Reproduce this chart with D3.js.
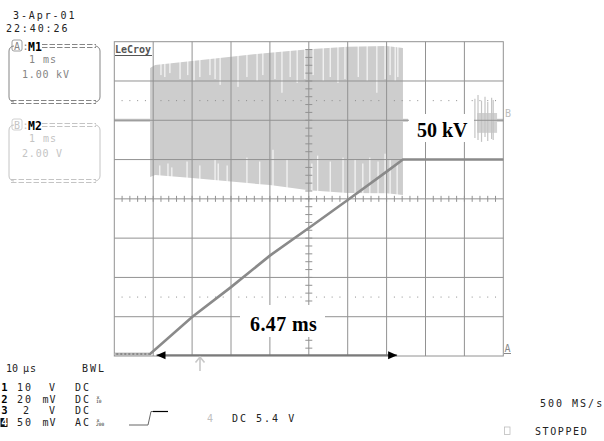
<!DOCTYPE html>
<html><head><meta charset="utf-8">
<script src="https://cdn.jsdelivr.net/npm/d3@7"></script>
<style>
html,body{margin:0;padding:0;background:#fff;}
svg{display:block;}
</style></head><body>
<svg id="c" width="604" height="441"></svg>
<script>
// ---------- data ----------
// Channel A (M1): ramp, time in ms, value in kV
const rampTime = [0, 0.92, 2.0, 3.0, 4.0, 5.0, 6.0, 7.0, 7.42, 8.0, 9.0, 10.0];
const rampKV   = [0, 0, 9.5, 17.2, 25.3, 32.4, 39.6, 46.9, 50, 50, 50, 50];

// Channel B (M2): burst envelope, time in ms, value in V
const burstTime = [0.92, 1.05, 2.0, 3.0, 4.0, 5.0, 6.0, 7.0, 7.42];
const burstHigh = [2.66, 2.82, 3.02, 3.24, 3.44, 3.62, 3.74, 3.78, 3.68];
const burstLow  = [-2.89, -2.78, -2.94, -3.12, -3.30, -3.56, -3.70, -3.72, -3.80];

// gaps in the burst (white streaks) from top edge / bottom edge
const gapTopTime = [1.20,1.30,1.43,1.69,1.89,2.05,2.20,2.46,2.59,2.72,3.18,3.41,3.67,3.82,4.13,4.31,4.52,4.70,4.90,5.11,5.37,5.55,5.75,5.93,6.27,6.50,6.75,6.96,7.09,7.22,7.29];
const gapTopEnd  = [2.3,2.2,2.4,2.1,2.3,2.0,2.2,2.3,2.1,1.8,1.7,2.2,2.0,2.3,2.1,1.4,2.2,1.9,2.1,2.3,2.0,2.2,1.9,2.1,2.2,2.0,1.4,2.1,2.3,2.0,2.2];
const gapLowTime = [1.17,1.38,1.48,1.87,2.20,2.59,2.67,2.90,3.41,3.74,4.08,4.44,5.08,5.23,5.55,5.88,6.19,6.39,6.57,6.78,6.96,7.09,7.27];
const gapLowEnd  = [-2.3,-2.2,-2.4,-2.1,-2.3,-2.0,-2.2,-2.3,-1.9,-2.1,-1.5,-2.0,-2.2,-1.8,-2.1,-1.9,-2.0,-2.2,-1.9,-2.1,-1.7,-2.0,-2.2];

// small burst near the right edge
const rbTime = [9.27, 9.35, 9.44, 9.53, 9.60, 9.70, 9.74];
const rbHigh = [1.10, 1.29, 1.00, 1.20, 0.93, 1.15, 1.03];
const rbLow  = [-0.90, -1.00, -1.10, -0.85, -1.05, -0.95, -1.00];
const rbBlockTime = [9.33, 9.84];
const rbBlockHigh = [0.37, 0.37];
const rbBlockLow  = [-0.64, -0.64];

// B trace flat parts (0 V)
const bFlatTime = [[0, 0.92], [7.42, 7.55], [9.4, 10]];

// annotation arrow (ms)
const arrowTime = [1.085, 7.27];
const labels = {kv: "50 kV", ms: "6.47 ms"};

// ---------- scales ----------
const svg = d3.select("#c");
const x = d3.scaleLinear().domain([0, 10]).range([114.3, 503.3]);       // 1 ms / div
const yDiv = d3.scaleLinear().domain([-4, 4]).range([356, 41.7]);       // divisions
const yA = d3.scaleLinear().domain([0, 50]).range([yDiv(-3.95), yDiv(-3.95 + 50 / 10.1)]);
const yB = d3.scaleLinear().domain([-12, 4]).range([yDiv(-4), yDiv(4)]); // 2 V/div, offset +2 div

const gridColor = "#929292";
const mono = "'DejaVu Sans Mono', monospace";

// ---------- channel B burst (under the graticule) ----------
const gB = svg.append("g");
gB.append("path")
  .datum(burstTime.map((t, i) => ({t, hi: burstHigh[i], lo: burstLow[i]})))
  .attr("d", d3.area().x(d => x(d.t)).y0(d => yB(d.lo)).y1(d => yB(d.hi)))
  .attr("fill", "#cdcdcd");
const envHi = d3.scaleLinear().domain(burstTime).range(burstHigh);
const envLo = d3.scaleLinear().domain(burstTime).range(burstLow);
gB.selectAll("line.gt").data(gapTopTime).join("line")
  .attr("x1", d => x(d)).attr("x2", d => x(d))
  .attr("y1", d => yB(envHi(d)) - 1).attr("y2", (d, i) => yB(gapTopEnd[i]))
  .attr("stroke", "#fff").attr("stroke-width", 1);
gB.selectAll("line.gl").data(gapLowTime).join("line")
  .attr("x1", d => x(d)).attr("x2", d => x(d))
  .attr("y1", d => yB(envLo(d)) + 1).attr("y2", (d, i) => yB(gapLowEnd[i]))
  .attr("stroke", "#fff").attr("stroke-width", 1);
// flat parts
bFlatTime.forEach(seg => {
  gB.append("line").attr("x1", x(seg[0])).attr("x2", x(seg[1]))
    .attr("y1", yB(0)).attr("y2", yB(0))
    .attr("stroke", "#c6c6c6").attr("stroke-width", 3);
});
// right burst
gB.append("path")
  .datum(rbBlockTime.map((t, i) => ({t, hi: rbBlockHigh[i], lo: rbBlockLow[i]})))
  .attr("d", d3.area().x(d => x(d.t)).y0(d => yB(d.lo)).y1(d => yB(d.hi)))
  .attr("fill", "#d2d2d2");
gB.selectAll("line.rb").data(rbTime).join("line")
  .attr("x1", d => x(d)).attr("x2", d => x(d))
  .attr("y1", (d, i) => yB(rbHigh[i])).attr("y2", (d, i) => yB(rbLow[i]))
  .attr("stroke", "#c4c4c4").attr("stroke-width", 1.2);

// ---------- graticule ----------
const gG = svg.append("g").attr("stroke", gridColor).attr("fill", "none");
gG.append("rect").attr("x", x(0)).attr("y", yDiv(4))
  .attr("width", x(10) - x(0)).attr("height", yDiv(-4) - yDiv(4)).attr("stroke-width", 1);
d3.range(1, 10).forEach(t => gG.append("line")
  .attr("x1", x(t)).attr("x2", x(t)).attr("y1", yDiv(4)).attr("y2", yDiv(-4)));
d3.range(-3, 4).forEach(v => gG.append("line")
  .attr("x1", x(0)).attr("x2", x(10)).attr("y1", yDiv(v)).attr("y2", yDiv(v)));
// center axis ticks
d3.range(1, 50).forEach(i => {
  const t = i * 0.2;
  gG.append("line").attr("x1", x(t)).attr("x2", x(t)).attr("y1", yDiv(0) - 3).attr("y2", yDiv(0) + 3);
});
d3.range(1, 40).forEach(i => {
  const v = -4 + i * 0.2;
  gG.append("line").attr("x1", x(5) - 3.5).attr("x2", x(5) + 3.5).attr("y1", yDiv(v)).attr("y2", yDiv(v));
});
// dotted lines
[2.5, -2.5].forEach(v => {
  d3.range(1, 50).filter(i => i % 5 !== 0).forEach(i => {
    svg.append("rect").attr("x", x(i * 0.2) - 0.5).attr("y", yDiv(v) - 0.5)
      .attr("width", 1).attr("height", 1).attr("fill", "#8c8c8c");
  });
});

// ---------- channel A ramp ----------
svg.append("path")
  .datum(rampTime.map((t, i) => ({t, v: rampKV[i]})))
  .attr("d", d3.line().x(d => x(d.t)).y(d => yA(d.v)))
  .attr("fill", "none").attr("stroke", "#8a8a8a").attr("stroke-width", 2.6);
svg.append("line").attr("x1", x(0)).attr("x2", x(0.92)).attr("y1", yA(0)).attr("y2", yA(0))
  .attr("stroke", "#fff").attr("stroke-width", 0.8).attr("stroke-dasharray", "2 2");

// ---------- annotation arrow ----------
const ay = yDiv(-3.98);
const ax0 = x(arrowTime[0]), ax1 = x(arrowTime[1]);
svg.append("line").attr("x1", ax0).attr("x2", ax1).attr("y1", ay).attr("y2", ay)
  .attr("stroke", "#7a7a7a").attr("stroke-width", 2);
svg.append("path").attr("d", `M${ax0},${ay} L${ax0 + 9},${ay - 4} L${ax0 + 9},${ay + 4} Z`).attr("fill", "#000");
svg.append("path").attr("d", `M${ax1},${ay} L${ax1 - 9},${ay - 4} L${ax1 - 9},${ay + 4} Z`).attr("fill", "#000");

// label boxes
svg.append("rect").attr("x", 409).attr("y", 114).attr("width", 65).attr("height", 28).attr("fill", "#fff");
svg.append("text").attr("x", 417).attr("y", 137).text(labels.kv)
  .attr("font-family", "'Liberation Serif', serif").attr("font-weight", "bold").attr("font-size", 20).attr("fill", "#000");
svg.append("rect").attr("x", 240).attr("y", 305).attr("width", 85).attr("height", 32).attr("fill", "#fff");
svg.append("text").attr("x", 250).attr("y", 331).text(labels.ms)
  .attr("font-family", "'Liberation Serif', serif").attr("font-weight", "bold").attr("font-size", 20)
  .attr("letter-spacing", 0.4).attr("fill", "#000");

// LeCroy logo
svg.append("text").attr("x", 115).attr("y", 52.5).text("LeCroy")
  .attr("font-family", mono).attr("font-weight", "bold").attr("font-size", 10).attr("fill", "#555");
svg.append("line").attr("x1", 115).attr("x2", 152).attr("y1", 55.5).attr("y2", 55.5)
  .attr("stroke", "#555").attr("stroke-width", 1.2);

// trace markers
svg.append("text").attr("x", 505).attr("y", 116.5).text("B")
  .attr("font-family", mono).attr("font-size", 10).attr("fill", "#bdbdbd");
svg.append("text").attr("x", 504.5).attr("y", 351.5).text("A")
  .attr("font-family", mono).attr("font-size", 10).attr("fill", "#8a8a8a");
svg.append("line").attr("x1", 504).attr("x2", 511).attr("y1", 353.5).attr("y2", 353.5)
  .attr("stroke", "#8a8a8a").attr("stroke-width", 1);
// trigger arrow
svg.append("path").attr("d", "M195.5,362.5 L200,357 L204.5,362.5 M200,357 V371")
  .attr("fill", "none").attr("stroke", "#c8c8c8").attr("stroke-width", 1.6);

// ---------- top-left text ----------
function txt(xp, yp, s, opt = {}) {
  return svg.append("text").attr("x", xp).attr("y", yp).text(s)
    .attr("font-family", mono).attr("font-size", opt.size || 10)
    .attr("letter-spacing", opt.ls === undefined ? 2 : opt.ls)
    .attr("font-weight", opt.bold ? "bold" : "normal")
    .attr("fill", opt.fill || "#222");
}
txt(13, 19, "3-Apr-01", {ls: 1.9});
txt(6, 32, "22:40:26", {ls: 1.9});

function infoBox(dy, col, letter, name, l1, l2) {
  const g = svg.append("g");
  g.append("rect").attr("x", 9).attr("y", 46 + dy).attr("width", 91).attr("height", 56).attr("rx", 5)
    .attr("fill", "none").attr("stroke", col).attr("stroke-width", 1);
  g.append("rect").attr("x", 14).attr("y", 43 + dy).attr("width", 81).attr("height", 6).attr("fill", "#fff");
  g.append("rect").attr("x", 14).attr("y", 99 + dy).attr("width", 81).attr("height", 6).attr("fill", "#fff");
  [44.5, 47.5].forEach(yy => g.append("line").attr("x1", 42).attr("x2", 96).attr("y1", yy + dy).attr("y2", yy + dy)
    .attr("stroke", col).attr("stroke-dasharray", "5.5 2"));
  [100.5, 103.5].forEach(yy => g.append("line").attr("x1", 11).attr("x2", 96).attr("y1", yy + dy).attr("y2", yy + dy)
    .attr("stroke", col).attr("stroke-dasharray", "5.5 2"));
  g.append("rect").attr("x", 12).attr("y", 40 + dy).attr("width", 10).attr("height", 11).attr("rx", 2)
    .attr("fill", "none").attr("stroke", col).attr("stroke-width", 0.8);
  txt(14, 50 + dy, letter, {fill: col, ls: 0});
  txt(22.5, 50 + dy, ":", {fill: col, ls: 0});
  txt(28, 50.5 + dy, name, {bold: true, size: 11.5, ls: 0, fill: "#000"});
  txt(29, 63 + dy, l1[0], {fill: col, ls: 0});
  txt(43, 63 + dy, l1[1], {fill: col, ls: 1});
  txt(22, 78 + dy, l2, {fill: col, ls: 0.8});
}
infoBox(0, "#858585", "A", "M1", ["1", "ms"], "1.00 kV");
infoBox(79, "#c4c4c4", "B", "M2", ["1", "ms"], "2.00 V");

// ---------- bottom text ----------
txt(6, 372, "10", {ls: 0});
txt(23, 372, "µs", {ls: 1});
txt(82, 372, "BWL", {ls: 2});
const chNum = ["1", "2", "3", "4"];
const chVal = ["10", "20", "2", "50"];
const chValX = [17, 17, 23, 17];
const chUnit = ["V", "mV", "V", "mV"];
const chUnitX = [49, 42.5, 49, 42.5];
const chCpl = ["DC", "DC", "DC", "AC"];
const chAtt = ["", "10", "", "200"];
const rowY = [391, 402.5, 414, 426];
chNum.forEach((n, i) => {
  const yy = rowY[i];
  if (i === 3) {
    svg.append("rect").attr("x", 0.5).attr("y", yy - 8).attr("width", 7).attr("height", 9).attr("fill", "#111");
    txt(1.2, yy, n, {bold: true, ls: 0, fill: "#fff", size: 10.5});
  } else {
    txt(1.2, yy, n, {bold: true, ls: 0, fill: "#000", size: 10.5});
  }
  txt(chValX[i], yy, chVal[i], {ls: 2});
  txt(chUnitX[i], yy, chUnit[i], {ls: 1});
  txt(75, yy, chCpl[i], {ls: 2});
  if (chAtt[i]) {
    txt(96.5, yy - 4, "x", {size: 5, ls: 0});
    txt(96, yy, chAtt[i], {size: 4.5, ls: 0});
  }
});
// trigger symbol
svg.append("path").attr("d", "M129,425 H148 L151,411.5 H153").attr("fill", "none")
  .attr("stroke", "#666").attr("stroke-width", 1);
svg.append("line").attr("x1", 153).attr("x2", 168).attr("y1", 411.5).attr("y2", 411.5)
  .attr("stroke", "#000").attr("stroke-width", 1.2);
txt(207, 422, "4", {ls: 0, fill: "#c0c0c0"});
txt(232, 422, "DC 5.4 V", {ls: 2});
txt(540, 407, "500 MS/s", {ls: 2});
svg.append("rect").attr("x", 504.5).attr("y", 427).attr("width", 5.5).attr("height", 7.5)
  .attr("fill", "none").attr("stroke", "#bdbdbd").attr("stroke-width", 0.8);
txt(535, 435, "STOPPED", {ls: 1.6});
</script>
</body></html>
